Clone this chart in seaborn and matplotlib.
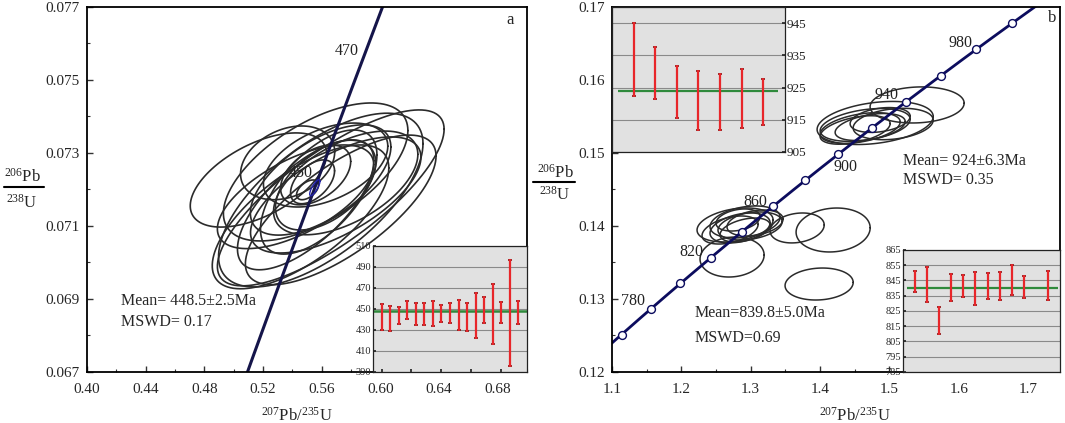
import numpy as np
import pandas as pd
import seaborn as sns
import matplotlib.pyplot as plt
from matplotlib.ticker import MultipleLocator, FormatStrFormatter
from matplotlib.lines import Line2D

# decay constants (1/yr)
L238 = 1.55125e-10
L235 = 9.8485e-10

# panel a: spot ellipses (centre, half extent in x and y, correlation)
a_x = [0.5169, 0.5559, 0.5662, 0.5594, 0.5368, 0.5593, 0.5580, 0.5696, 0.5491, 0.5627,
       0.5559, 0.5538, 0.5504, 0.5730, 0.5456, 0.5627, 0.5764, 0.5422]
a_y = [0.07226, 0.07248, 0.07177, 0.07171, 0.07273, 0.07226, 0.07193, 0.07185, 0.07158, 0.07212,
       0.07240, 0.07221, 0.07199, 0.07144, 0.07125, 0.07267, 0.07218, 0.07180]
a_sx = [0.0465, 0.0629, 0.0773, 0.0697, 0.0321, 0.0479, 0.0397, 0.0581, 0.0465, 0.0342,
        0.0239, 0.0150, 0.0075, 0.0650, 0.0602, 0.0424, 0.0492, 0.0533]
a_sy = [0.00129, 0.00189, 0.00241, 0.00238, 0.00101, 0.00151, 0.00170, 0.00159, 0.00178, 0.00123,
        0.00082, 0.00060, 0.00027, 0.00205, 0.00197, 0.00115, 0.00142, 0.00142]
a_rho = [0.55, 0.6, 0.78, 0.65, 0.3, 0.6, 0.6, 0.65, 0.68, 0.5,
         0.45, 0.5, 0.5, 0.72, 0.68, 0.45, 0.55, 0.62]
a_ages = [450, 470]

# panel a inset: 206Pb/238U ages (Ma)
a_lo = [430.4, 429.4, 435.3, 440.9, 435.0, 435.0, 433.7, 437.6, 436.6, 430.4,
        429.1, 422.8, 436.6, 416.9, 437.0, 395.5, 435.3]
a_hi = [454.7, 453.1, 452.1, 458.0, 455.7, 455.4, 458.0, 453.4, 455.4, 458.7,
        456.1, 465.6, 461.3, 473.8, 456.4, 496.8, 458.0]
a_mean = 448.5

# panel b: spot ellipses
b_x = [1.540, 1.5055, 1.4795, 1.4651, 1.4579, 1.4723, 1.4867, 1.4506,
       1.4189, 1.3670, 1.2732, 1.3987, 1.2775, 1.2919, 1.2847, 1.2991,
       1.2703, 1.2919, 1.3063, 1.2818]
b_y = [0.15658, 0.15397, 0.15411, 0.15384, 0.15342, 0.15356, 0.15452, 0.15315,
       0.13945, 0.13973, 0.13575, 0.13205, 0.14014, 0.14055, 0.13973, 0.14000,
       0.13945, 0.13945, 0.14041, 0.14082]
b_sx = [0.0678, 0.0577, 0.0837, 0.0649, 0.0577, 0.0505, 0.0433, 0.0505,
        0.0534, 0.0390, 0.0462, 0.0491, 0.0548, 0.0505, 0.0433, 0.0462,
        0.0404, 0.0361, 0.0404, 0.0317]
b_sy = [0.00247, 0.00215, 0.00295, 0.00225, 0.00210, 0.00185, 0.00170, 0.00195,
        0.00301, 0.00205, 0.00274, 0.00219, 0.00233, 0.00219, 0.00205, 0.00192,
        0.00192, 0.00164, 0.00178, 0.00151]
b_rho = [0.1, 0.25, 0.3, 0.35, 0.4, 0.4, 0.3, 0.45,
         0.1, 0.2, 0.1, 0.1, 0.3, 0.3, 0.35, 0.3,
         0.4, 0.4, 0.3, 0.3]
b_marks = [760, 780, 800, 820, 840, 860, 880, 900, 920, 940, 960, 980, 1000]
b_labels = [780, 820, 860, 900, 940, 980]

# panel b insets
b1_lo = [922.5, 921.3, 915.5, 911.8, 911.8, 912.3, 913.4]
b1_hi = [944.9, 937.6, 931.7, 930.1, 929.1, 930.8, 927.6]
b1_mean = 924
b2_pos = [1, 2, 3, 4, 5, 6, 7, 8, 9, 10, 12]
b2_lo = [837.7, 831.2, 809.7, 831.6, 834.3, 829.2, 832.6, 832.2, 835.3, 833.3, 832.0]
b2_hi = [851.5, 853.6, 827.6, 849.5, 848.5, 850.5, 849.9, 850.3, 855.0, 847.9, 850.9]
b2_mean = 839.8


def ratios(t_ma):
    t = np.asarray(t_ma, dtype=float) * 1e6
    return np.exp(L235 * t) - 1, np.exp(L238 * t) - 1


def ellipse_frame(xs, ys, sxs, sys_, rhos):
    th = np.linspace(0, 2 * np.pi, 120)
    rows = []
    for i, (cx, cy, sx, sy, r) in enumerate(zip(xs, ys, sxs, sys_, rhos)):
        ex = cx + sx * np.cos(th)
        ey = cy + sy * (r * np.cos(th) + np.sqrt(1 - r * r) * np.sin(th))
        rows.append(pd.DataFrame({'id': i, 'x': ex, 'y': ey}))
    return pd.concat(rows, ignore_index=True)


def bars_frame(pos, lo, hi):
    return pd.DataFrame({'id': np.repeat(np.arange(len(pos)), 2),
                         'x': np.repeat(pos, 2),
                         'y': np.ravel(np.column_stack([lo, hi]))})


sns.set_theme(style='ticks')
plt.rcParams['font.family'] = ['Liberation Serif', 'DejaVu Serif']
plt.rcParams['mathtext.fontset'] = 'custom'
plt.rcParams['mathtext.rm'] = 'Liberation Serif'
plt.rcParams['mathtext.it'] = 'Liberation Serif:italic'
plt.rcParams['axes.linewidth'] = 1.3

fig = plt.figure(figsize=(10.65, 4.23), dpi=100)
ax1 = fig.add_axes([0.0817, 0.1206, 0.4131, 0.8629])
ax2 = fig.add_axes([0.5746, 0.1206, 0.4207, 0.8629])

line_c = '#15154a'
ell_c = '#2b2b2b'

# ---- panel a
el = ellipse_frame(a_x, a_y, a_sx, a_sy, a_rho)
sns.lineplot(data=el, x='x', y='y', units='id', estimator=None, sort=False,
             color=ell_c, lw=1.2, ax=ax1)
cx, cy = ratios(np.linspace(405, 490, 200))
sns.lineplot(x=cx, y=cy, sort=False, color=line_c, lw=2.2, ax=ax1)
mx, my = ratios([448.5])
th = np.linspace(0, 2 * np.pi, 60)
ax1.plot(mx[0] + 0.0035 * np.cos(th), my[0] + 0.00022 * (0.8 * np.cos(th) + 0.6 * np.sin(th)),
         color='#2222aa', lw=1)
lx, ly = ratios(a_ages)
for age, x, y in zip(a_ages, lx, ly):
    ax1.annotate(str(age), (x, y), xytext=(-17, 6), textcoords='offset pixels',
                 ha='center', va='center', fontsize=11.5, color='#222222')
ax1.set_xlim(0.40, 0.70)
ax1.set_ylim(0.067, 0.077)
ax1.set_xticks([0.40, 0.44, 0.48, 0.52, 0.56, 0.60, 0.64, 0.68])
ax1.set_yticks([0.067, 0.069, 0.071, 0.073, 0.075, 0.077])
ax1.xaxis.set_minor_locator(MultipleLocator(0.02))
ax1.yaxis.set_minor_locator(MultipleLocator(0.001))
ax1.xaxis.set_major_formatter(FormatStrFormatter('%.2f'))
ax1.yaxis.set_major_formatter(FormatStrFormatter('%.3f'))
ax1.text(0.077, 0.195, 'Mean= 448.5±2.5Ma', transform=ax1.transAxes, fontsize=11.5, va='center')
ax1.text(0.077, 0.137, 'MSWD= 0.17', transform=ax1.transAxes, fontsize=11.5, va='center')
ax1.text(0.961, 0.964, 'a', transform=ax1.transAxes, fontsize=12, ha='center', va='center')

# ---- panel b
el = ellipse_frame(b_x, b_y, b_sx, b_sy, b_rho)
sns.lineplot(data=el, x='x', y='y', units='id', estimator=None, sort=False,
             color=ell_c, lw=1.1, ax=ax2)
cx, cy = ratios(np.linspace(740, 1015, 200))
sns.lineplot(x=cx, y=cy, sort=False, color='#0c0c5e', lw=2, ax=ax2)
px, py = ratios(b_marks)
sns.scatterplot(x=px, y=py, s=32, color='white', edgecolor='#0c0c5e', linewidth=1, zorder=5, ax=ax2)
offs = {780: (-18, 8), 820: (-19, 6), 860: (-18, 4), 900: (7, -13), 940: (-19, 7), 980: (-16, 6)}
lx, ly = ratios(b_labels)
for age, x, y in zip(b_labels, lx, ly):
    ax2.annotate(str(age), (x, y), xytext=offs[age], textcoords='offset pixels',
                 ha='center', va='center', fontsize=11.5, color='#222222')
ax2.set_xlim(1.1, 1.746)
ax2.set_ylim(0.12, 0.17)
ax2.xaxis.set_major_locator(MultipleLocator(0.1))
ax2.xaxis.set_minor_locator(MultipleLocator(0.05))
ax2.yaxis.set_major_locator(MultipleLocator(0.01))
ax2.yaxis.set_minor_locator(MultipleLocator(0.005))
ax2.xaxis.set_major_formatter(FormatStrFormatter('%.1f'))
ax2.yaxis.set_major_formatter(FormatStrFormatter('%.2f'))
ax2.text(0.650, 0.578, 'Mean= 924±6.3Ma', transform=ax2.transAxes, fontsize=11.5, va='center')
ax2.text(0.650, 0.526, 'MSWD= 0.35', transform=ax2.transAxes, fontsize=11.5, va='center')
ax2.text(0.185, 0.162, 'Mean=839.8±5.0Ma', transform=ax2.transAxes, fontsize=11.5, va='center')
ax2.text(0.185, 0.093, 'MSWD=0.69', transform=ax2.transAxes, fontsize=11.5, va='center')
ax2.text(0.982, 0.97, 'b', transform=ax2.transAxes, fontsize=12, ha='center', va='center')

for ax, lxpos in [(ax1, 0.477), (ax2, 0.542)]:
    for s in ax.spines.values():
        s.set_color('black')
    ax.tick_params(which='both', direction='in', labelsize=11, color='#333333')
    ax.tick_params(which='major', length=4, width=1)
    ax.tick_params(which='minor', length=2.5, width=0.8)
    ax.tick_params(axis='x', pad=8)
    ax.tick_params(axis='y', pad=5)
    ax.set_xlabel('$^{207}$Pb/$^{235}$U', fontsize=12, va='center')
    ax.xaxis.set_label_coords(lxpos, -0.12)
    ax.set_ylabel('')

# y labels drawn as a stacked fraction
W, H = 1065.0, 423.0
for xc, ytop, ybar, ybot, x0, x1 in [(22, 177, 187, 203, 4, 44), (555, 173, 182, 195, 533, 575)]:
    fig.text(xc / W, 1 - ytop / H, '$^{206}$Pb', ha='center', va='center', fontsize=12)
    fig.text(xc / W, 1 - ybot / H, '$^{238}$U', ha='center', va='center', fontsize=12)
    fig.add_artist(Line2D([x0 / W, x1 / W], [1 - ybar / H, 1 - ybar / H], color='black', lw=1.5,
                          transform=fig.transFigure))


# ---- insets
def inset(rect, pos, lo, hi, mean, xlim, ylim, ystep, fs, right=False, mean_span=None):
    ia = fig.add_axes(rect)
    ia.set_facecolor('#e1e1e1')
    for s in ia.spines.values():
        s.set_color('#222222')
        s.set_linewidth(0.9)
    ia.set_xlim(*xlim)
    ia.set_ylim(*ylim)
    ia.set_yticks(np.arange(ylim[0], ylim[1] + 0.1, ystep))
    ia.grid(axis='y', color='#8a8a8a', lw=0.8)
    ia.set_axisbelow(True)
    if mean_span is None:
        ia.axhline(mean, color='#2f8a3c', lw=1.8)
    else:
        ia.hlines(mean, mean_span[0], mean_span[1], color='#2f8a3c', lw=1.6)
    bf = bars_frame(pos, lo, hi)
    sns.lineplot(data=bf, x='x', y='y', units='id', estimator=None, sort=False,
                 color='#e8262a', lw=1.6, ax=ia)
    sns.scatterplot(x=np.concatenate([pos, pos]), y=np.concatenate([lo, hi]), marker='_',
                    s=10, color='#8b1010', linewidth=1.2, ax=ia)
    ia.set_xlabel('')
    ia.set_ylabel('')
    ia.tick_params(axis='y', labelsize=fs, length=2, pad=1.5, direction='in')
    ia.tick_params(axis='x', labelbottom=False, length=2, direction='in')
    if right:
        ia.yaxis.tick_right()
    return ia


i1 = inset([0.3502, 0.1206, 0.1446, 0.2979], np.arange(1, len(a_lo) + 1), a_lo, a_hi, a_mean,
           (0, 18), (390, 510), 20, 7.5)
i1.set_xticks([1, 4.5, 8, 11.5, 15])
i2 = inset([0.5746, 0.6407, 0.1624, 0.3428], np.arange(1, len(b1_lo) + 1), b1_lo, b1_hi, b1_mean,
           (0, 8), (905, 950), 10, 9.5, right=True, mean_span=(0.3, 7.7))
i2.set_yticks([905, 915, 925, 935, 945])
i2.set_xticks([])
i3 = inset([0.8479, 0.1206, 0.1474, 0.2884], np.array(b2_pos), b2_lo, b2_hi, b2_mean,
           (0, 13), (785, 865), 10, 7.5, mean_span=(0.3, 12.8))
i3.set_xticks([])

fig.savefig('out.png', dpi=100)
